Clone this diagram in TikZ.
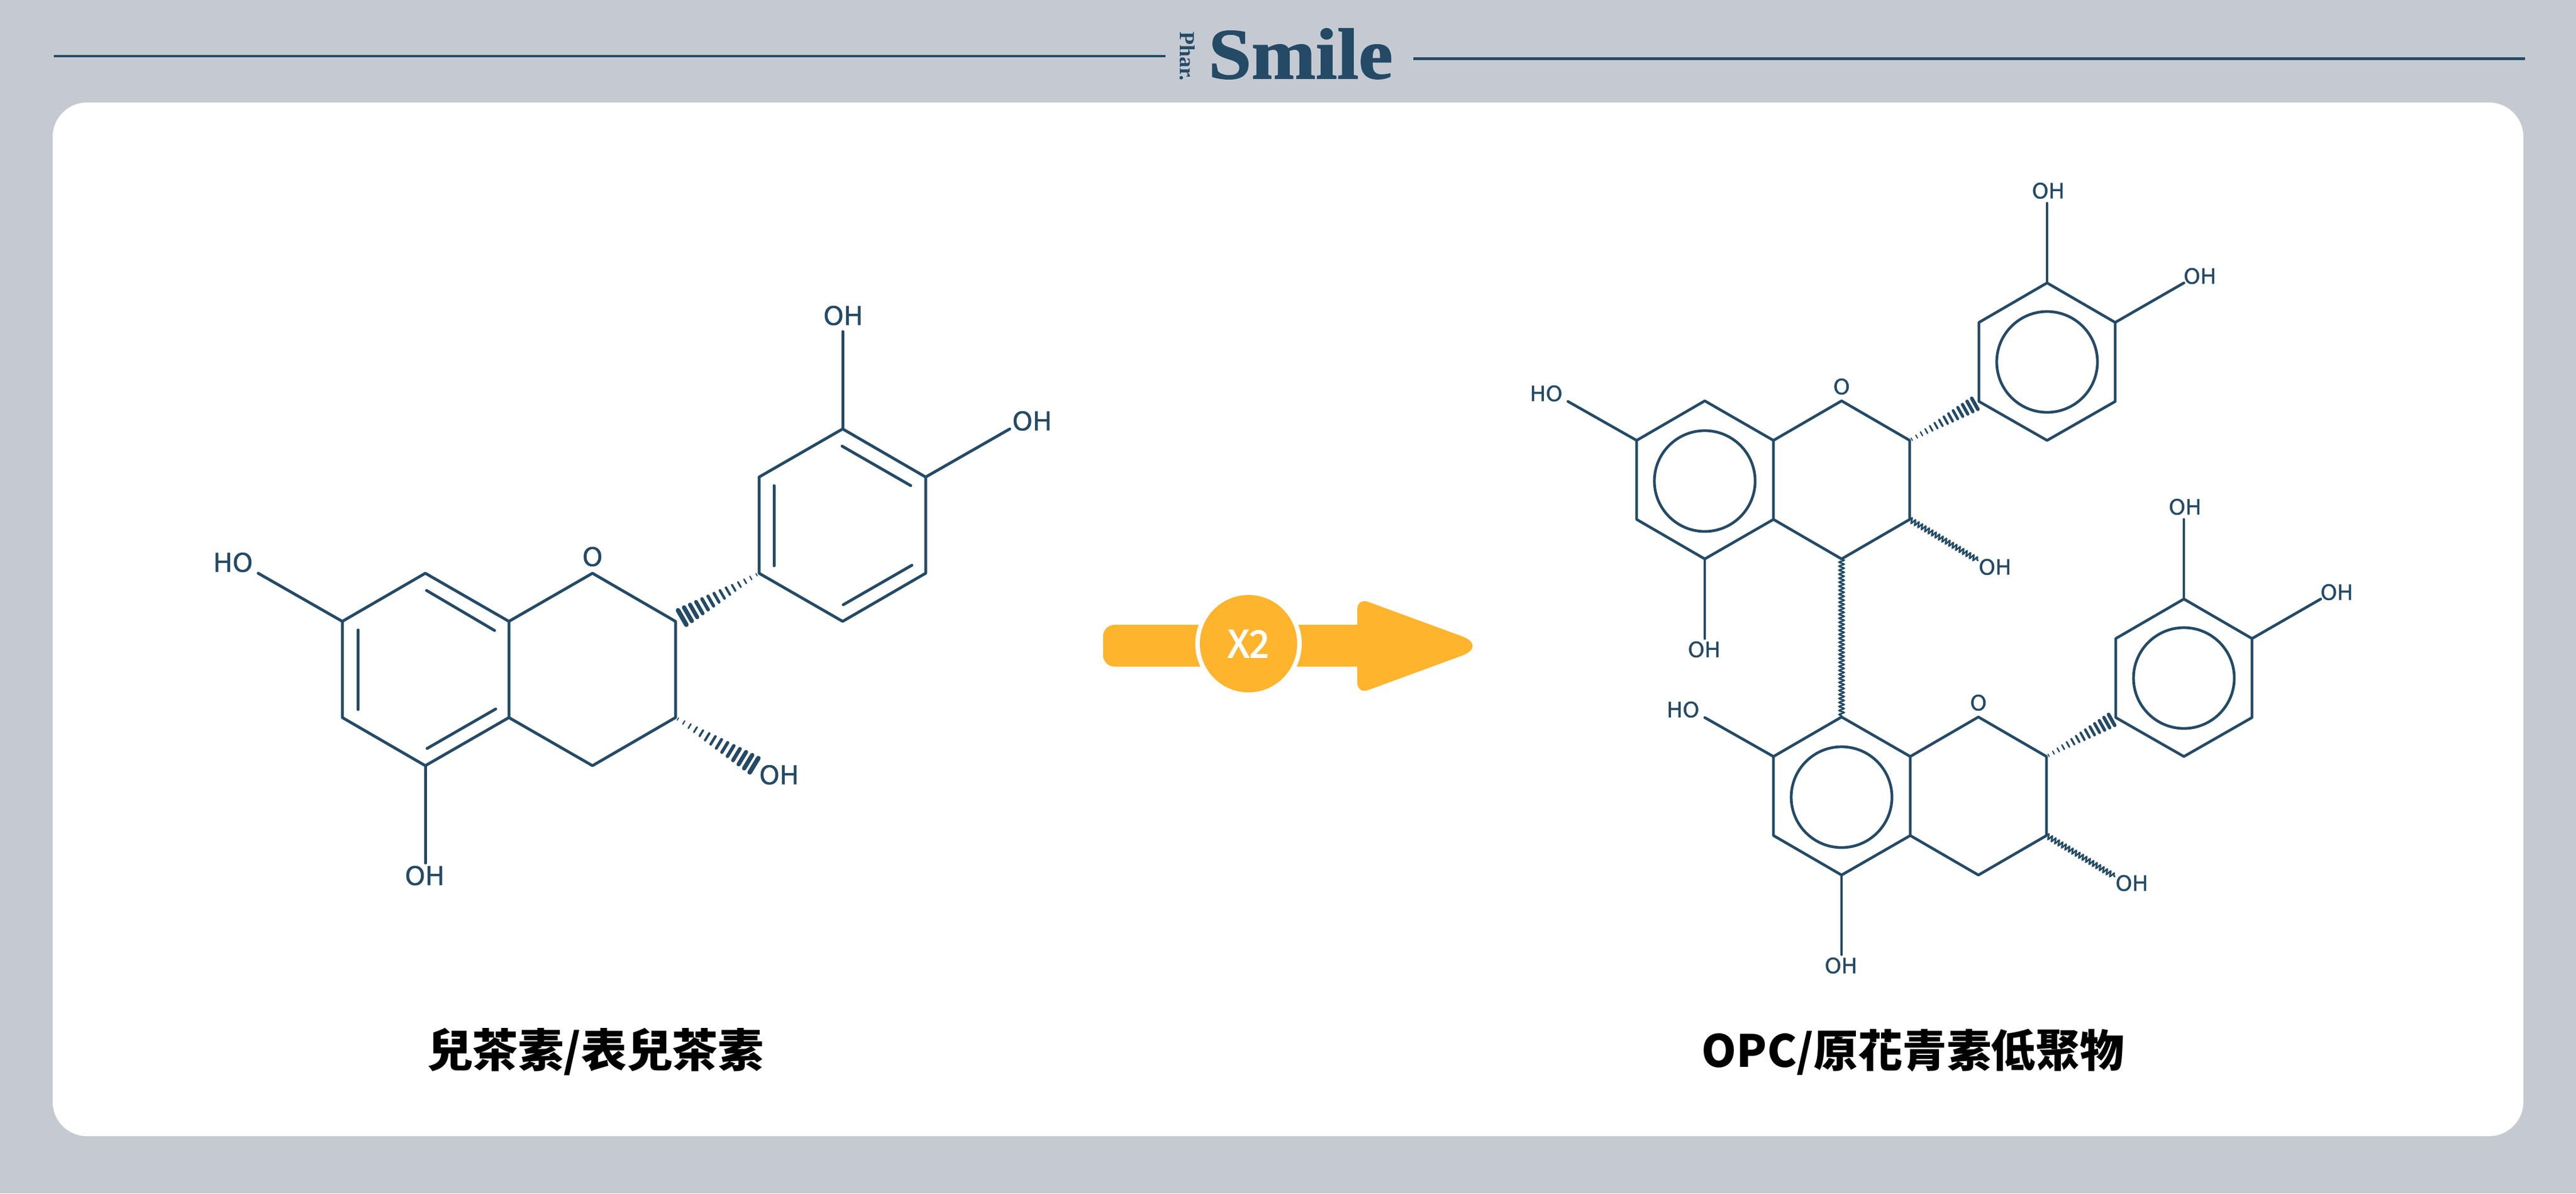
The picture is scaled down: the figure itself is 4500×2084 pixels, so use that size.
\documentclass[tikz,border=0pt]{standalone}
\usepackage{fontspec}
\usepackage{graphicx}
\usetikzlibrary{calc,decorations.pathmorphing}
\setmainfont[FakeBold=1]{DejaVu Sans}
\newfontfamily\cjkfont{Noto Sans CJK TC}
\newfontfamily\logofont[FakeBold=1.2]{Liberation Serif Bold}
\newfontfamily\pharfont{Liberation Serif Bold}
\newfontfamily\xfont[FakeBold=1.8]{Fira Sans}
\definecolor{bgcol}{HTML}{C5CAD2}
\definecolor{navy}{HTML}{244A66}
\definecolor{amber}{HTML}{FFB42D}
\tikzset{
  bond/.style={draw=navy,line width=1pt,line cap=round,line join=round},
  bondthin/.style={draw=navy,line width=.95pt,line cap=round,line join=round},
  wavy/.style={draw=navy,line width=.55pt,decorate,decoration={snake,amplitude=.85pt,segment length=1.4pt}},
  atomL/.style={text=navy,font=\fontsize{9}{9}\selectfont,inner sep=0pt},
  atomS/.style={text=navy,font=\fontsize{7.4}{7.4}\selectfont,inner sep=0pt},
  aromatic/.style={circle,draw=navy,line width=.95pt,minimum size=35.2pt,inner sep=0pt},
  caption/.style={text=black,inner sep=0pt},
  hline/.style={draw=navy,line width=.93pt},
}
% narrow end #1, wide end #2, max half length (pt), max stroke width (pt), t start, t end
\newcommand{\hashbond}[6]{%
  \foreach \i in {0,...,13}{%
    \pgfmathsetmacro\ff{\i/13}%
    \pgfmathsetmacro\tt{#5+(#6-#5)*\ff}%
    \pgfmathsetmacro\hl{0.5+(#3-0.5)*\ff}%
    \pgfmathsetmacro\lw{0.35+(#4-0.35)*\ff}%
    \draw[navy,line width=\lw pt,line cap=round] ($(#1)!\tt!(#2)!\hl pt!90:(#2)$) -- ($(#1)!\tt!(#2)!\hl pt!-90:(#2)$);
  }%
}
% one flavan unit of the right-hand dimer
\newcommand{\flavanunit}{%
  \coordinate (a1) at (2859,769);
  \coordinate (a2) at (2978,700);
  \coordinate (a3) at (3098,769);
  \coordinate (a4) at (3098,907);
  \coordinate (a5) at (2978,976);
  \coordinate (a6) at (2859,907);
  \coordinate (p1) at (3217,700);
  \coordinate (p2) at (3336,769);
  \coordinate (p3) at (3336,907);
  \coordinate (p4) at (3217,976);
  \coordinate (b1) at (3457,701);
  \coordinate (b2) at (3457,563);
  \coordinate (b3) at (3576,494);
  \coordinate (b4) at (3695,563);
  \coordinate (b5) at (3695,701);
  \coordinate (b6) at (3576,769);
  \draw[bondthin] (a1)--(a2)--(a3)--(a4)--(a5)--(a6)--cycle;
  \draw[bondthin] (a3)--(p1)--(p2)--(p3)--(p4)--(a4);
  \draw[bondthin] (b1)--(b2)--(b3)--(b4)--(b5)--(b6)--cycle;
  \node[aromatic] (ra) at (2978,840) {};
  \node[aromatic] (rb) at (3576,632) {};
  \node[atomS] (ho7) at (2701,687) {HO};
  \node[atomS] (oh5) at (2977,1134) {OH};
  \node[atomS] (ringO) at (3217,675) {O};
  \node[atomS] (oh3) at (3485,990) {OH};
  \node[atomS] (oh3p) at (3578,333) {OH};
  \node[atomS] (oh4p) at (3843,482) {OH};
  \coordinate (e7) at (2739,701);
  \coordinate (e5) at (2978,1115);
  \coordinate (e3p) at (3576,355);
  \coordinate (e4p) at (3815,494);
  \coordinate (e3) at (3456,979);
  \draw[bondthin] (a1)--(e7);
  \draw[bondthin] (a5)--(e5);
  \draw[bondthin] (b3)--(e3p);
  \draw[bondthin] (b4)--(e4p);
  \draw[wavy] (p3)--(e3);
  \hashbond{p2}{b1}{2.2}{1.25}{.03}{.94}
}
\begin{document}
\begin{tikzpicture}[x=0.2pt,y=-0.2pt]
\useasboundingbox (0,0) rectangle (4500,2084);
\fill[bgcol] (0,0) rectangle (4500,2084);
\fill[white,rounded corners=12pt] (92,179) rectangle (4408,1984);
% header
\coordinate (ll) at (94,98);
\coordinate (lr) at (2036,98);
\coordinate (rl) at (2469,102.5);
\coordinate (rr) at (4411,102.5);
\draw[hline] (ll)--(lr);
\draw[hline] (rl)--(rr);
\node[inner sep=0pt,anchor=base west,text=navy] (logo) at (2110,137) {\scalebox{1.07}[1]{\fontsize{25.2}{25.2}\logofont Smile}};
\node[inner sep=0pt,rotate=-90,text=navy] (phar) at (2074.5,98.5) {\fontsize{7.5}{7.5}\pharfont Phar.};
% left molecule
\coordinate (A1) at (598,1085);
\coordinate (A2) at (743,1001);
\coordinate (A3) at (889,1085);
\coordinate (A4) at (889,1253);
\coordinate (A5) at (743,1337);
\coordinate (A6) at (598,1253);
\coordinate (P1) at (1035,1001);
\coordinate (P2) at (1180,1085);
\coordinate (P3) at (1180,1253);
\coordinate (P4) at (1035,1337);
\coordinate (B1) at (1326,1001);
\coordinate (B2) at (1326,833);
\coordinate (B3) at (1472,749);
\coordinate (B4) at (1617,833);
\coordinate (B5) at (1617,1001);
\coordinate (B6) at (1472,1085);
\draw[bond] (A1)--(A2)--(A3)--(A4)--(A5)--(A6)--cycle;
\draw[bond] (A3)--(P1)--(P2)--(P3)--(P4)--(A4);
\draw[bond] (B1)--(B2)--(B3)--(B4)--(B5)--(B6)--cycle;
\coordinate (d1a) at (745,1031); \coordinate (d1b) at (864,1101);
\coordinate (d2a) at (625.5,1100); \coordinate (d2b) at (625.5,1239);
\coordinate (d3a) at (746,1307); \coordinate (d3b) at (866,1238);
\coordinate (d4a) at (1352,848); \coordinate (d4b) at (1352,988);
\coordinate (d5a) at (1471,779); \coordinate (d5b) at (1591,848);
\coordinate (d6a) at (1473,1056); \coordinate (d6b) at (1593,987);
\draw[bond] (d1a)--(d1b);
\draw[bond] (d2a)--(d2b);
\draw[bond] (d3a)--(d3b);
\draw[bond] (d4a)--(d4b);
\draw[bond] (d5a)--(d5b);
\draw[bond] (d6a)--(d6b);
\node[atomL] (LHO) at (407,982) {HO};
\node[atomL] (LO) at (1035,972) {O};
\node[atomL] (LOH3p) at (1473,551) {OH};
\node[atomL] (LOH4p) at (1803,735) {OH};
\node[atomL] (LOH3) at (1361,1353) {OH};
\node[atomL] (LOH5) at (742,1529) {OH};
\coordinate (E7) at (451,1001);
\coordinate (E3p) at (1472,579);
\coordinate (E4p) at (1764,749);
\coordinate (E5) at (743,1507);
\coordinate (E3) at (1320,1338);
\draw[bond] (A1)--(E7);
\draw[bond] (B3)--(E3p);
\draw[bond] (B4)--(E4p);
\draw[bond] (A5)--(E5);
\hashbond{B1}{P2}{2.9}{1.6}{.03}{.92}
\hashbond{P3}{E3}{2.9}{1.6}{.03}{.98}
% arrow
\fill[amber] (1927,1127) [rounded corners=4pt] -- (1927,1091) [sharp corners] -- (2371,1091)
  [rounded corners=4pt] -- (2371,1044) [rounded corners=10pt] -- (2600,1128)
  [rounded corners=4pt] -- (2371,1212) [sharp corners] -- (2371,1164)
  [rounded corners=4pt] -- (1927,1164) -- (1927,1127) -- cycle;
\node[circle,fill=white,minimum size=37.2pt,inner sep=0pt] (xring) at (2181,1124) {};
\node[circle,fill=amber,minimum size=34pt,inner sep=0pt,text=white,font=\fontsize{14}{14}\xfont] (xtwo) at (2181,1124) {X2};
% right molecule
\begin{scope}[name prefix=u-]
\flavanunit
\end{scope}
\begin{scope}[shift={(239,552)},name prefix=l-]
\flavanunit
\end{scope}
\draw[wavy] (u-p4)--(l-a2);
% captions
\node[caption,font=\fontsize{15.9}{15.9}\cjkfont\bfseries] (capL) at (1040,1837) {兒茶素/表兒茶素};
\node[caption,font=\fontsize{15.5}{15.5}\cjkfont\bfseries] (capR) at (3342,1837) {OPC/原花青素低聚物};
\end{tikzpicture}
\end{document}
